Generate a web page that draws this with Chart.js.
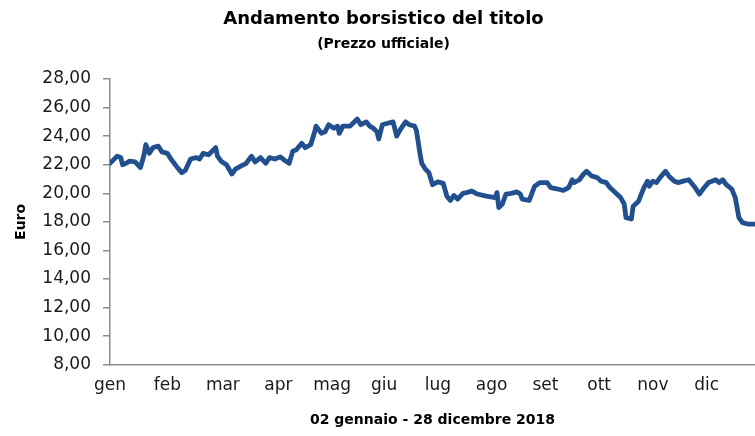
<!DOCTYPE html>
<html>
<head>
<meta charset="utf-8">
<script src="https://cdn.jsdelivr.net/npm/chart.js@4/dist/chart.umd.min.js"></script>
<style>
  html, body { margin: 0; padding: 0; background: #ffffff; }
  #wrap { width: 755px; height: 436px; position: relative; }
</style>
</head>
<body>
<div id="wrap"><canvas id="c" width="755" height="436"></canvas></div>
<script>
// Day of year 2018 (1 Jan = 0) of each sampled trading day
const tradeDays = [
  1, 5, 7, 8, 10, 12, 15, 18, 20, 21, 23, 25, 28, 30, 33, 35, 38, 41, 43, 46,
  49, 51, 53, 56, 60, 61, 63, 66, 69, 71, 74, 77, 80, 82, 84, 85, 88, 90, 93, 96,
  98, 101, 103, 105, 108, 110, 113, 115, 116, 119, 121, 123, 126, 128, 129, 131, 135, 139, 141, 144,
  146, 148, 150, 151, 153, 156, 159, 161, 163, 166, 168, 171, 172, 174, 175, 177, 179, 181, 184, 187,
  189, 191, 193, 195, 198, 200, 203, 206, 211, 216, 217, 218, 220, 222, 225, 228, 230, 231, 235, 238,
  241, 245, 247, 251, 254, 257, 259, 260, 263, 265, 267, 270, 273, 275, 278, 280, 283, 286, 288, 289,
  292, 293, 296, 299, 301, 302, 304, 306, 308, 311, 313, 316, 318, 321, 324, 327, 330, 332, 335, 337,
  339, 341, 343, 345, 348, 350, 352, 354, 357, 359, 361
];
// Official price (Euro)
const prices = [
  22.10, 22.60, 22.50, 22.00, 22.10, 22.25, 22.20, 21.80, 22.70, 23.40, 22.80, 23.20, 23.30, 22.90, 22.80, 22.40, 21.90, 21.45, 21.60, 22.40,
  22.50, 22.40, 22.80, 22.70, 23.20, 22.60, 22.25, 22.00, 21.35, 21.70, 21.90, 22.10, 22.60, 22.20, 22.40, 22.50, 22.10, 22.50, 22.40, 22.55,
  22.35, 22.10, 22.95, 23.05, 23.50, 23.20, 23.40, 24.20, 24.70, 24.20, 24.30, 24.80, 24.55, 24.70, 24.20, 24.70, 24.70, 25.20, 24.80, 25.00,
  24.70, 24.55, 24.30, 23.80, 24.80, 24.90, 25.00, 24.00, 24.45, 25.00, 24.80, 24.70, 24.40, 22.80, 22.10, 21.70, 21.45, 20.60, 20.80, 20.70,
  19.80, 19.50, 19.85, 19.60, 20.00, 20.05, 20.15, 19.95, 19.80, 19.70, 20.05, 19.00, 19.25, 19.95, 20.00, 20.10, 19.95, 19.60, 19.50, 20.50,
  20.75, 20.75, 20.40, 20.30, 20.20, 20.40, 20.95, 20.75, 20.95, 21.30, 21.55, 21.20, 21.10, 20.85, 20.75, 20.40, 20.05, 19.70, 19.25, 18.30,
  18.20, 19.10, 19.45, 20.40, 20.85, 20.50, 20.85, 20.75, 21.10, 21.55, 21.20, 20.85, 20.75, 20.85, 20.95, 20.50, 19.95, 20.30, 20.75, 20.85,
  20.95, 20.75, 20.95, 20.60, 20.30, 19.70, 18.30, 17.95, 17.85, 17.85, 17.85
];
// Month labels and the day of year where each is shown
const monthLabels = ['gen', 'feb', 'mar', 'apr', 'mag', 'giu', 'lug', 'ago', 'set', 'ott', 'nov', 'dic'];
const monthTickDays = [1, 33, 64, 95, 125, 154, 184, 214, 244, 274, 304, 334];
const yTickValues = [8, 10, 12, 14, 16, 18, 20, 22, 24, 26, 28];

const titleText = 'Andamento borsistico del titolo';
const subtitleText = '(Prezzo ufficiale)';
const xTitle = '02 gennaio - 28 dicembre 2018';
const yTitle = 'Euro';

const points = tradeDays.map((d, i) => ({ x: d, y: prices[i] }));

new Chart(document.getElementById('c'), {
  type: 'line',
  data: {
    datasets: [{
      data: points,
      borderColor: '#22508e',
      borderWidth: 4.8,
      borderJoinStyle: 'round',
      borderCapStyle: 'round',
      pointRadius: 0,
      tension: 0,
      fill: false
    }]
  },
  options: {
    responsive: false,
    animation: false,
    layout: { padding: { left: 12, right: 0, top: 0, bottom: 7 } },
    plugins: {
      legend: { display: false },
      tooltip: { enabled: false },
      title: {
        display: true,
        text: titleText,
        color: '#000000',
        font: { family: 'DejaVu Sans', size: 18, weight: 'bold' },
        padding: { top: 9, bottom: 2 }
      },
      subtitle: {
        display: true,
        text: subtitleText,
        color: '#000000',
        font: { family: 'DejaVu Sans', size: 14, weight: 'bold' },
        padding: { top: 3, bottom: 26.6 }
      }
    },
    scales: {
      x: {
        type: 'linear',
        min: 1,
        max: 361,
        afterBuildTicks: (scale) => { scale.ticks = monthTickDays.map(v => ({ value: v })); },
        ticks: {
          autoSkip: false,
          maxRotation: 0,
          padding: 11,
          color: '#1a1a1a',
          font: { family: 'DejaVu Sans', size: 17 },
          callback: (value) => {
            const i = monthTickDays.indexOf(value);
            return i >= 0 ? monthLabels[i] : '';
          }
        },
        grid: { drawOnChartArea: false, drawTicks: false },
        border: { display: true, color: '#8c8c8c', width: 1.5 },
        title: {
          display: true,
          text: xTitle,
          color: '#000000',
          font: { family: 'DejaVu Sans', size: 14, weight: 'bold' },
          padding: { top: 5, bottom: 0 }
        }
      },
      y: {
        min: 8,
        max: 28,
        afterBuildTicks: (scale) => { scale.ticks = yTickValues.map(v => ({ value: v })); },
        afterFit: (scale) => { scale.width = 98; },
        ticks: {
          padding: 12,
          color: '#1a1a1a',
          font: { family: 'DejaVu Sans', size: 17 },
          callback: (value) => value.toFixed(2).replace('.', ',')
        },
        grid: { drawOnChartArea: false, drawTicks: true, tickLength: 7, color: '#8c8c8c', lineWidth: 1.5 },
        border: { display: true, color: '#8c8c8c', width: 1.5 },
        title: {
          display: true,
          text: yTitle,
          color: '#000000',
          font: { family: 'DejaVu Sans', size: 14, weight: 'bold' },
          padding: { top: 1, bottom: 0 }
        }
      }
    }
  }
});
</script>
</body>
</html>
